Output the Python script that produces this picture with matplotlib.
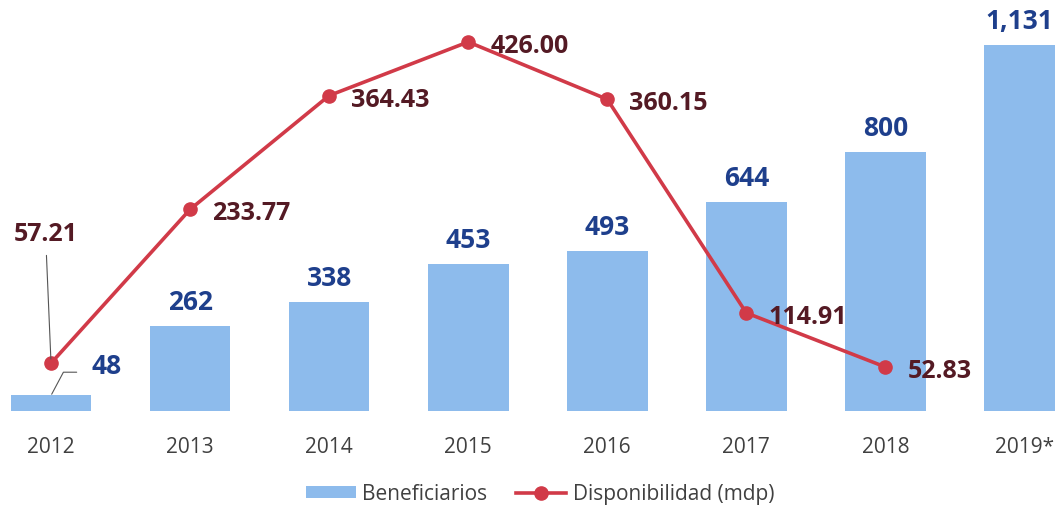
import matplotlib
matplotlib.use("Agg")
import matplotlib.pyplot as plt
from matplotlib.patches import Patch
from matplotlib.lines import Line2D

years = ["2012", "2013", "2014", "2015", "2016", "2017", "2018", "2019*"]
beneficiarios = [48, 262, 338, 453, 493, 644, 800, 1131]
beneficiarios_labels = ["48", "262", "338", "453", "493", "644", "800", "1,131"]
disp_years_idx = [0, 1, 2, 3, 4, 5, 6]
disponibilidad = [57.21, 233.77, 364.43, 426.00, 360.15, 114.91, 52.83]
disp_labels = ["57.21", "233.77", "364.43", "426.00", "360.15", "114.91", "52.83"]

BAR_COLOR = "#8dbbec"
LINE_COLOR = "#d13a48"
BAR_LABEL_COLOR = "#1e3f8c"
LINE_LABEL_COLOR = "#541a24"
TICK_COLOR = "#404040"
FONT = "Open Sans"

plt.rcParams["font.family"] = [FONT, "DejaVu Sans"]

fig = plt.figure(figsize=(10.55, 5.10), dpi=100)
ax = fig.add_axes([0.0, 98 / 510, 1.0, 412 / 510])
ax2 = ax.twinx()

x = list(range(len(years)))
ax.bar(x, beneficiarios, width=0.58, color=BAR_COLOR, zorder=1)
ax.set_xlim(-0.367, 7.22)
ax.set_ylim(0, 1272)
ax2.set_ylim(2.3, 475.3)

ax2.plot(disp_years_idx, disponibilidad, color=LINE_COLOR, lw=2.6,
         marker="o", markersize=9.5, markerfacecolor=LINE_COLOR,
         markeredgecolor=LINE_COLOR, zorder=3, solid_capstyle="round")

for a in (ax, ax2):
    for s in a.spines.values():
        s.set_visible(False)
    a.set_yticks([])
ax.set_xticks(x)
ax.set_xticklabels(years, fontsize=15, color=TICK_COLOR)
ax.tick_params(axis="x", length=0, pad=18)

# bar labels
last = len(beneficiarios) - 1
for i, (v, lab) in enumerate(zip(beneficiarios, beneficiarios_labels)):
    if i == 0:
        ax.annotate(lab, xy=(i, v), xytext=(56, 30), textcoords="offset pixels",
                    ha="center", va="center", fontsize=19, fontweight="bold",
                    color=BAR_LABEL_COLOR, annotation_clip=False,
                    arrowprops=dict(arrowstyle="-", color="#555555", lw=0.8,
                                    relpos=(0.0, 0.25), shrinkA=9, shrinkB=1,
                                    connectionstyle="angle,angleA=0,angleB=62,rad=0"))
    else:
        dx = -5 if i == last else 0
        ax.annotate(lab, xy=(i, v), xytext=(dx, 17), textcoords="offset pixels",
                    ha="center", va="baseline", fontsize=19, fontweight="bold",
                    color=BAR_LABEL_COLOR, annotation_clip=False, zorder=5)

# line labels
for i, v, lab in zip(disp_years_idx, disponibilidad, disp_labels):
    if i == 0:
        ax2.annotate(lab, xy=(i, v), xytext=(-5, 130), textcoords="offset pixels",
                     ha="center", va="center", fontsize=18, fontweight="bold",
                     color=LINE_LABEL_COLOR, annotation_clip=False,
                     arrowprops=dict(arrowstyle="-", color="#555555", lw=0.8,
                                     relpos=(0.5, 0.0), shrinkA=5, shrinkB=3))
    else:
        ax2.annotate(lab, xy=(i, v), xytext=(22, -10), textcoords="offset pixels",
                     ha="left", va="baseline", fontsize=18, fontweight="bold",
                     color=LINE_LABEL_COLOR, annotation_clip=False, zorder=5)

handles = [Patch(facecolor=BAR_COLOR, edgecolor="none"),
           Line2D([0], [0], color=LINE_COLOR, lw=2.6, marker="o", markersize=9.5)]
fig.legend(handles, ["Beneficiarios", "Disponibilidad (mdp)"],
           loc="center", bbox_to_anchor=(540 / 1055, 1 - 495 / 510),
           ncol=2, frameon=False, fontsize=15, handlelength=2.4,
           handleheight=0.5, handletextpad=0.3, columnspacing=1.4,
           labelcolor=TICK_COLOR)

fig.savefig("out.png", dpi=100)
